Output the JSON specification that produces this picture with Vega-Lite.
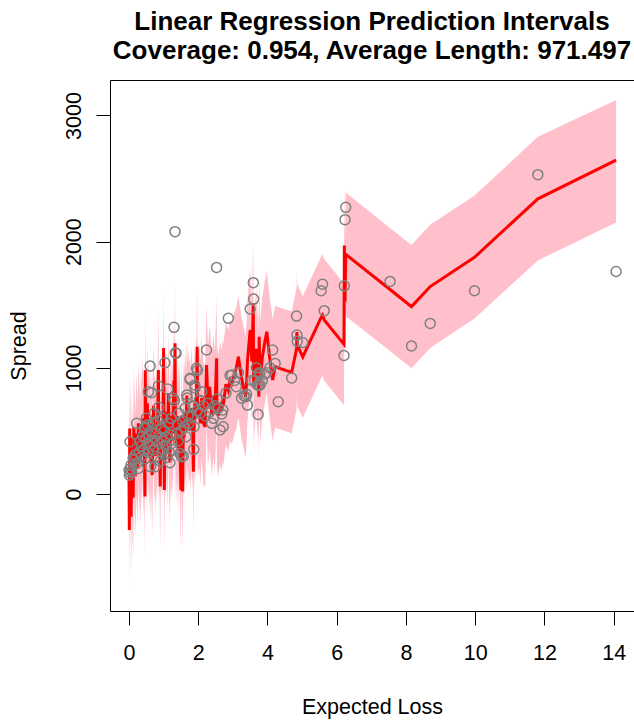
{
  "$schema": "https://vega.github.io/schema/vega-lite/v6.json",
  "autosize": "none",
  "width": 524,
  "height": 531,
  "padding": {"left": 110, "top": 80, "right": 0, "bottom": 110},
  "background": "white",
  "config": {
    "view": {"stroke": "black", "strokeWidth": 1},
    "font": "Liberation Sans",
    "axis": {
      "domain": false, "grid": false, "ticks": true, "tickColor": "black", "tickWidth": 1, "tickSize": 14,
      "labelFont": "Liberation Sans", "labelFontSize": 21.5, "labelColor": "black",
      "titleFont": "Liberation Sans", "titleFontSize": 21.5, "titleFontWeight": "normal", "titleColor": "black"
    }
  },
  "title": {
    "text": ["Linear Regression Prediction Intervals", "Coverage: 0.954, Average Length: 971.497"],
    "font": "Liberation Sans", "fontSize": 26, "fontWeight": "bold", "color": "black",
    "anchor": "middle", "frame": "group", "lineHeight": 29, "offset": 16
  },
  "data": {"values": [
    {"x":0.00,"y":190,"fit":120,"lwr":-362,"upr":602},
    {"x":0.01,"y":150,"fit":-285,"lwr":-767,"upr":197},
    {"x":0.02,"y":170,"fit":520,"lwr":38,"upr":1002},
    {"x":0.03,"y":414,"fit":80,"lwr":-402,"upr":562},
    {"x":0.04,"y":200,"fit":450,"lwr":-32,"upr":932},
    {"x":0.06,"y":230,"fit":-180,"lwr":-662,"upr":302},
    {"x":0.08,"y":180,"fit":300,"lwr":-182,"upr":782},
    {"x":0.12,"y":283,"fit":-30,"lwr":-512,"upr":452},
    {"x":0.14,"y":270,"fit":530,"lwr":48,"upr":1012},
    {"x":0.18,"y":310,"fit":140,"lwr":-342,"upr":622},
    {"x":0.22,"y":560,"fit":480,"lwr":-2,"upr":962},
    {"x":0.25,"y":250,"fit":200,"lwr":-282,"upr":682},
    {"x":0.27,"y":203,"fit":560,"lwr":78,"upr":1042},
    {"x":0.30,"y":330,"fit":380,"lwr":-102,"upr":862},
    {"x":0.33,"y":420,"fit":250,"lwr":-232,"upr":732},
    {"x":0.35,"y":380,"fit":520,"lwr":38,"upr":1002},
    {"x":0.37,"y":300,"fit":400,"lwr":-82,"upr":882},
    {"x":0.40,"y":460,"fit":600,"lwr":118,"upr":1082},
    {"x":0.42,"y":350,"fit":300,"lwr":-182,"upr":782},
    {"x":0.44,"y":520,"fit":450,"lwr":-32,"upr":932},
    {"x":0.46,"y":280,"fit":-20,"lwr":-502,"upr":462},
    {"x":0.47,"y":530,"fit":980,"lwr":498,"upr":1462},
    {"x":0.49,"y":440,"fit":400,"lwr":-82,"upr":882},
    {"x":0.50,"y":600,"fit":550,"lwr":68,"upr":1032},
    {"x":0.52,"y":400,"fit":300,"lwr":-182,"upr":782},
    {"x":0.53,"y":547,"fit":720,"lwr":238,"upr":1202},
    {"x":0.55,"y":330,"fit":450,"lwr":-32,"upr":932},
    {"x":0.56,"y":810,"fit":600,"lwr":118,"upr":1082},
    {"x":0.58,"y":470,"fit":350,"lwr":-132,"upr":832},
    {"x":0.60,"y":380,"fit":500,"lwr":18,"upr":982},
    {"x":0.61,"y":1014,"fit":420,"lwr":-62,"upr":902},
    {"x":0.62,"y":216,"fit":250,"lwr":-232,"upr":732},
    {"x":0.63,"y":500,"fit":560,"lwr":78,"upr":1042},
    {"x":0.65,"y":803,"fit":400,"lwr":-82,"upr":882},
    {"x":0.67,"y":420,"fit":150,"lwr":-332,"upr":632},
    {"x":0.69,"y":560,"fit":520,"lwr":38,"upr":1002},
    {"x":0.71,"y":350,"fit":700,"lwr":218,"upr":1182},
    {"x":0.73,"y":640,"fit":420,"lwr":-62,"upr":902},
    {"x":0.75,"y":216,"fit":480,"lwr":-2,"upr":962},
    {"x":0.77,"y":480,"fit":300,"lwr":-182,"upr":782},
    {"x":0.79,"y":300,"fit":560,"lwr":78,"upr":1042},
    {"x":0.81,"y":420,"fit":420,"lwr":-62,"upr":902},
    {"x":0.83,"y":580,"fit":620,"lwr":138,"upr":1102},
    {"x":0.85,"y":856,"fit":983,"lwr":501,"upr":1465},
    {"x":0.86,"y":687,"fit":400,"lwr":-82,"upr":882},
    {"x":0.88,"y":400,"fit":520,"lwr":38,"upr":1002},
    {"x":0.90,"y":260,"fit":60,"lwr":-422,"upr":542},
    {"x":0.92,"y":450,"fit":560,"lwr":78,"upr":1042},
    {"x":0.94,"y":520,"fit":450,"lwr":-32,"upr":932},
    {"x":0.96,"y":330,"fit":580,"lwr":98,"upr":1062},
    {"x":0.98,"y":600,"fit":420,"lwr":-62,"upr":902},
    {"x":1.00,"y":420,"fit":1157,"lwr":675,"upr":1639},
    {"x":1.02,"y":500,"fit":32,"lwr":-450,"upr":514},
    {"x":1.04,"y":1040,"fit":560,"lwr":78,"upr":1042},
    {"x":1.06,"y":380,"fit":420,"lwr":-62,"upr":902},
    {"x":1.08,"y":450,"fit":650,"lwr":168,"upr":1132},
    {"x":1.10,"y":290,"fit":350,"lwr":-132,"upr":832},
    {"x":1.12,"y":832,"fit":520,"lwr":38,"upr":1002},
    {"x":1.14,"y":560,"fit":800,"lwr":318,"upr":1282},
    {"x":1.16,"y":330,"fit":450,"lwr":-32,"upr":932},
    {"x":1.18,"y":248,"fit":250,"lwr":-232,"upr":732},
    {"x":1.20,"y":470,"fit":560,"lwr":78,"upr":1042},
    {"x":1.22,"y":600,"fit":420,"lwr":-62,"upr":902},
    {"x":1.24,"y":400,"fit":620,"lwr":138,"upr":1102},
    {"x":1.26,"y":350,"fit":480,"lwr":-2,"upr":962},
    {"x":1.28,"y":758,"fit":700,"lwr":218,"upr":1182},
    {"x":1.30,"y":1321,"fit":900,"lwr":418,"upr":1382},
    {"x":1.31,"y":739,"fit":500,"lwr":18,"upr":982},
    {"x":1.33,"y":2079,"fit":1194,"lwr":712,"upr":1676},
    {"x":1.34,"y":1120,"fit":600,"lwr":118,"upr":1082},
    {"x":1.36,"y":1115,"fit":400,"lwr":-82,"upr":882},
    {"x":1.38,"y":480,"fit":620,"lwr":138,"upr":1102},
    {"x":1.40,"y":550,"fit":520,"lwr":38,"upr":1002},
    {"x":1.42,"y":420,"fit":350,"lwr":-132,"upr":832},
    {"x":1.44,"y":640,"fit":600,"lwr":118,"upr":1082},
    {"x":1.47,"y":322,"fit":450,"lwr":-32,"upr":932},
    {"x":1.50,"y":500,"fit":30,"lwr":-452,"upr":512},
    {"x":1.52,"y":296,"fit":620,"lwr":138,"upr":1102},
    {"x":1.55,"y":580,"fit":20,"lwr":-462,"upr":502},
    {"x":1.57,"y":301,"fit":560,"lwr":78,"upr":1042},
    {"x":1.59,"y":533,"fit":450,"lwr":-32,"upr":932},
    {"x":1.62,"y":680,"fit":650,"lwr":168,"upr":1132},
    {"x":1.65,"y":454,"fit":500,"lwr":18,"upr":982},
    {"x":1.67,"y":784,"fit":780,"lwr":298,"upr":1262},
    {"x":1.68,"y":760,"fit":560,"lwr":78,"upr":1042},
    {"x":1.70,"y":620,"fit":700,"lwr":218,"upr":1182},
    {"x":1.73,"y":560,"fit":560,"lwr":78,"upr":1042},
    {"x":1.76,"y":909,"fit":620,"lwr":138,"upr":1102},
    {"x":1.77,"y":917,"fit":500,"lwr":18,"upr":982},
    {"x":1.81,"y":613,"fit":680,"lwr":198,"upr":1162},
    {"x":1.84,"y":700,"fit":520,"lwr":38,"upr":1002},
    {"x":1.86,"y":692,"fit":177,"lwr":-305,"upr":659},
    {"x":1.87,"y":354,"fit":620,"lwr":138,"upr":1102},
    {"x":1.88,"y":533,"fit":500,"lwr":18,"upr":982},
    {"x":1.90,"y":864,"fit":720,"lwr":238,"upr":1202},
    {"x":1.91,"y":840,"fit":600,"lwr":118,"upr":1082},
    {"x":1.95,"y":996,"fit":760,"lwr":278,"upr":1242},
    {"x":1.97,"y":660,"fit":1167,"lwr":685,"upr":1649},
    {"x":1.98,"y":980,"fit":620,"lwr":138,"upr":1102},
    {"x":2.03,"y":745,"fit":700,"lwr":218,"upr":1182},
    {"x":2.06,"y":640,"fit":560,"lwr":78,"upr":1042},
    {"x":2.10,"y":811,"fit":760,"lwr":278,"upr":1242},
    {"x":2.15,"y":700,"fit":560,"lwr":78,"upr":1042},
    {"x":2.20,"y":620,"fit":533,"lwr":51,"upr":1015},
    {"x":2.24,"y":1141,"fit":1022,"lwr":540,"upr":1504},
    {"x":2.28,"y":720,"fit":700,"lwr":218,"upr":1182},
    {"x":2.33,"y":650,"fit":850,"lwr":368,"upr":1332},
    {"x":2.39,"y":560,"fit":626,"lwr":144,"upr":1108},
    {"x":2.44,"y":600,"fit":780,"lwr":298,"upr":1262},
    {"x":2.48,"y":700,"fit":650,"lwr":168,"upr":1132},
    {"x":2.53,"y":1796,"fit":1075,"lwr":593,"upr":1557},
    {"x":2.54,"y":753,"fit":700,"lwr":218,"upr":1182},
    {"x":2.58,"y":680,"fit":620,"lwr":138,"upr":1102},
    {"x":2.63,"y":507,"fit":720,"lwr":238,"upr":1202},
    {"x":2.68,"y":634,"fit":660,"lwr":178,"upr":1142},
    {"x":2.71,"y":666,"fit":750,"lwr":268,"upr":1232},
    {"x":2.72,"y":533,"fit":700,"lwr":218,"upr":1182},
    {"x":2.80,"y":800,"fit":870,"lwr":388,"upr":1352},
    {"x":2.87,"y":1392,"fit":820,"lwr":338,"upr":1302},
    {"x":2.92,"y":940,"fit":900,"lwr":418,"upr":1382},
    {"x":2.97,"y":943,"fit":877,"lwr":395,"upr":1359},
    {"x":3.05,"y":900,"fit":960,"lwr":478,"upr":1442},
    {"x":3.10,"y":850,"fit":1000,"lwr":518,"upr":1482},
    {"x":3.16,"y":961,"fit":1088,"lwr":606,"upr":1570},
    {"x":3.25,"y":760,"fit":920,"lwr":438,"upr":1402},
    {"x":3.32,"y":780,"fit":830,"lwr":348,"upr":1312},
    {"x":3.37,"y":771,"fit":771,"lwr":289,"upr":1253},
    {"x":3.40,"y":790,"fit":900,"lwr":418,"upr":1382},
    {"x":3.42,"y":705,"fit":1050,"lwr":568,"upr":1532},
    {"x":3.50,"y":1466,"fit":1300,"lwr":818,"upr":1782},
    {"x":3.55,"y":900,"fit":1050,"lwr":568,"upr":1532},
    {"x":3.59,"y":1675,"fit":1513,"lwr":1031,"upr":1995},
    {"x":3.60,"y":1545,"fit":850,"lwr":368,"upr":1332},
    {"x":3.63,"y":900,"fit":1000,"lwr":518,"upr":1482},
    {"x":3.68,"y":1000,"fit":1150,"lwr":668,"upr":1632},
    {"x":3.71,"y":864,"fit":900,"lwr":418,"upr":1382},
    {"x":3.73,"y":631,"fit":1050,"lwr":568,"upr":1532},
    {"x":3.75,"y":860,"fit":771,"lwr":289,"upr":1253},
    {"x":3.76,"y":961,"fit":1246,"lwr":764,"upr":1728},
    {"x":3.78,"y":951,"fit":1000,"lwr":518,"upr":1482},
    {"x":3.79,"y":864,"fit":880,"lwr":398,"upr":1362},
    {"x":3.85,"y":900,"fit":1080,"lwr":598,"upr":1562},
    {"x":3.92,"y":950,"fit":1200,"lwr":718,"upr":1682},
    {"x":3.98,"y":961,"fit":1286,"lwr":804,"upr":1768},
    {"x":4.07,"y":1000,"fit":1062,"lwr":580,"upr":1544},
    {"x":4.15,"y":1141,"fit":903,"lwr":421,"upr":1385},
    {"x":4.22,"y":1035,"fit":1010,"lwr":528,"upr":1492},
    {"x":4.31,"y":731,"fit":1000,"lwr":518,"upr":1482},
    {"x":4.70,"y":919,"fit":964,"lwr":482,"upr":1446},
    {"x":4.84,"y":1410,"fit":1150,"lwr":668,"upr":1632},
    {"x":4.85,"y":1260,"fit":1284,"lwr":802,"upr":1766},
    {"x":4.86,"y":1210,"fit":1180,"lwr":698,"upr":1662},
    {"x":5.02,"y":1200,"fit":1086,"lwr":604,"upr":1568},
    {"x":5.55,"y":1611,"fit":1400,"lwr":918,"upr":1882},
    {"x":5.59,"y":1662,"fit":1418,"lwr":936,"upr":1900},
    {"x":5.64,"y":1453,"fit":1380,"lwr":898,"upr":1862},
    {"x":6.21,"y":1098,"fit":1186,"lwr":704,"upr":1668},
    {"x":6.22,"y":1650,"fit":1970,"lwr":1488,"upr":2452},
    {"x":6.24,"y":2174,"fit":1525,"lwr":1043,"upr":2007},
    {"x":6.26,"y":2272,"fit":1899,"lwr":1409,"upr":2389},
    {"x":7.54,"y":1685,"fit":1621,"lwr":1133,"upr":2109},
    {"x":8.16,"y":1173,"fit":1485,"lwr":997,"upr":1973},
    {"x":8.70,"y":1352,"fit":1644,"lwr":1157,"upr":2133},
    {"x":9.98,"y":1611,"fit":1876,"lwr":1391,"upr":2365},
    {"x":11.81,"y":2531,"fit":2339,"lwr":1851,"upr":2831},
    {"x":14.07,"y":1763,"fit":2646,"lwr":2152,"upr":3122}
  ]},
  "encoding": {
    "x": {
      "field": "x", "type": "quantitative",
      "scale": {"domain": [-0.549, 14.587], "nice": false, "zero": false},
      "axis": {"values": [0,2,4,6,8,10,12,14], "format": "d", "labelBaseline": "alphabetic", "labelPadding": 34,
               "title": "Expected Loss", "titleBaseline": "alphabetic", "titleY": 102}
    }
  },
  "layer": [
    {
      "mark": {"type": "area", "color": "#FFC0CB", "opacity": 1},
      "encoding": {
        "y": {"field": "lwr", "type": "quantitative",
              "scale": {"domain": [-927, 3281], "nice": false, "zero": false},
              "axis": {"values": [0,1000,2000,3000], "format": "d", "labelAngle": 270, "labelAlign": "center",
                       "labelBaseline": "alphabetic", "labelPadding": 16,
                       "title": "Spread", "titleAngle": 270, "titleBaseline": "alphabetic", "titleX": -85}},
        "y2": {"field": "upr"}
      }
    },
    {
      "mark": {"type": "line", "color": "#FF0000", "strokeWidth": 3},
      "encoding": {"y": {"field": "fit", "type": "quantitative"}}
    },
    {
      "mark": {"type": "point", "shape": "circle", "filled": false, "color": "#808080", "strokeWidth": 1.5, "size": 100, "opacity": 1},
      "encoding": {"y": {"field": "y", "type": "quantitative"}}
    }
  ]
}
